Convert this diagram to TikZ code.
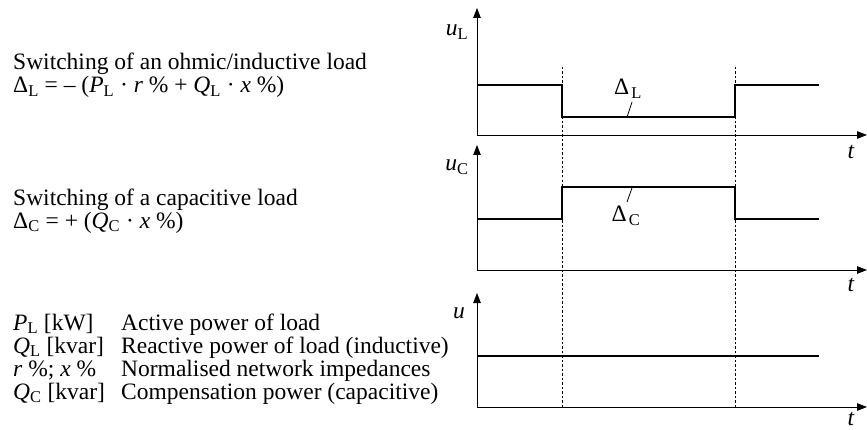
\documentclass[tikz,border=0pt]{standalone}
\usepackage{fontspec}
\setmainfont{Liberation Serif}
\usetikzlibrary{arrows.meta}

\begin{document}
\begin{tikzpicture}[x=1pt, y=1pt,
  axis/.style={line width=0.8pt, -{Triangle[length=10pt,width=7.5pt]}},
  signal/.style={line width=2pt},
  switchline/.style={line width=0.6pt, dash pattern=on 2.5pt off 2pt},
  leader/.style={line width=0.8pt},
  every node/.style={inner sep=0pt, font=\fontsize{23.5}{23}\selectfont},
  txt/.style={anchor=base west}]

  % =======================================================
  % PARAMETERS
  % =======================================================
  \def\Xorig{477} % time axis origin
  \def\Xend{867}  % tip of the time axis
  \def\Xon{562}   % switching on
  \def\Xoff{735}  % switching off
  \def\Xstop{819} % end of the curves
  \def\Xlab{457}  % x of the u labels
  \def\Xt{851}    % x of the t labels

  \useasboundingbox (0,0) rectangle (867,429);

  % Switching instants (dashed, over all three graphs)
  \foreach \xs in {\Xon,\Xoff} {
      \draw[switchline] (\xs,22) -- (\xs,364);
  }

  % =======================================================
  % 1. Ohmic/inductive load
  % =======================================================
  \begin{scope}[yshift=294pt]
      \draw[axis] (\Xorig,0) -- (\Xend,0);
      \draw[axis] (\Xorig,0) -- (\Xorig,127);
      \node (uL) at (\Xlab,103) {\textit{u}\textsubscript{L}};
      \node (tL) at (\Xt,-17) {\textit{t}};

      \draw[signal] (\Xorig,50) -- (\Xon,50) -- (\Xon,18) -- (\Xoff,18) -- (\Xoff,50) -- (\Xstop,50);

      \node (dL) at (628,46) {Δ\kern2pt\textsubscript{L}};
      \coordinate (dLtip) at (632,33);
      \coordinate (dLfoot) at (627,18);
      \draw[leader] (dLtip) -- (dLfoot);
  \end{scope}

  % =======================================================
  % 2. Capacitive load
  % =======================================================
  \begin{scope}[yshift=159pt]
      \draw[axis] (\Xorig,0) -- (\Xend,0);
      \draw[axis] (\Xorig,0) -- (\Xorig,125);
      \node (uC) at (\Xlab,103) {\textit{u}\textsubscript{C}};
      \node (tC) at (\Xt,-15) {\textit{t}};

      \draw[signal] (\Xorig,51) -- (\Xon,51) -- (\Xon,83) -- (\Xoff,83) -- (\Xoff,51) -- (\Xstop,51);

      \node (dC) at (626,54) {Δ\kern2pt\textsubscript{C}};
      \coordinate (dCtip) at (632,82);
      \coordinate (dCfoot) at (627,68);
      \draw[leader] (dCtip) -- (dCfoot);
  \end{scope}

  % =======================================================
  % 3. Resulting voltage
  % =======================================================
  \begin{scope}[yshift=22pt]
      \draw[axis] (\Xorig,0) -- (\Xend,0);
      \draw[axis] (\Xorig,0) -- (\Xorig,114);
      \node (u) at (459,94) {\textit{u}};
      \node (t) at (\Xt,-12) {\textit{t}};

      \draw[signal] (\Xorig,51) -- (\Xstop,51);
  \end{scope}

  % =======================================================
  % Text on the left
  % =======================================================
  \node[txt] (swL) at (13,359) {Switching of an ohmic/inductive load};
  \node[txt] (eqL) at (13,336) {Δ\textsubscript{L} = – (\textit{P}\textsubscript{L} · \textit{r} \% + \textit{Q}\textsubscript{L} · \textit{x} \%)};
  \node[txt] (swC) at (13,224) {Switching of a capacitive load};
  \node[txt] (eqC) at (13,201) {Δ\textsubscript{C} = + (\textit{Q}\textsubscript{C} · \textit{x} \%)};

  % Legend
  \foreach \y/\key/\desc in {
      99/{\textit{P}\textsubscript{L} [kW]}/{Active power of load},
      76/{\textit{Q}\textsubscript{L} [kvar]}/{Reactive power of load (inductive)},
      53/{\textit{r} \%; \textit{x} \%}/{Normalised network impedances},
      30/{\textit{Q}\textsubscript{C} [kvar]}/{Compensation power (capacitive)}} {
      \node[txt] (key\y) at (13,\y) {\key};
      \node[txt] (desc\y) at (121,\y) {\desc};
  }

\end{tikzpicture}
\end{document}
